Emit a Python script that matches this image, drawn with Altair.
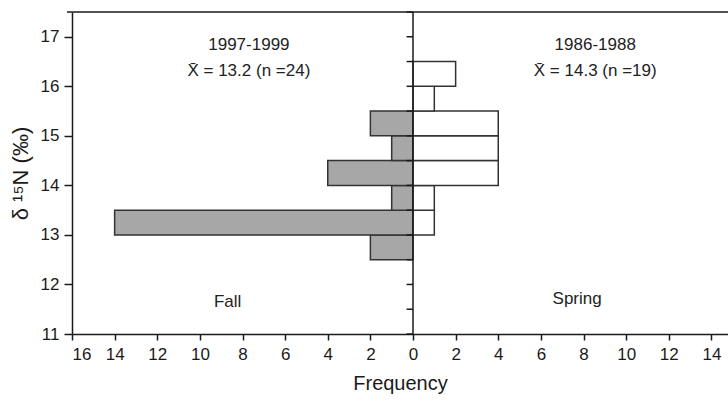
import altair as alt
import pandas as pd

# Fall 1997-1999 (left, gray)
fall_bin_start = [12.5, 13.0, 13.5, 14.0, 14.5, 15.0]
fall_counts = [2, 14, 1, 4, 1, 2]
# Spring 1986-1988 (right, white)
spring_bin_start = [13.0, 13.5, 14.0, 14.5, 15.0, 15.5, 16.0]
spring_counts = [1, 1, 4, 4, 4, 1, 2]
bin_width = 0.5

y_ticks = [11, 11.5, 12, 12.5, 13, 13.5, 14, 14.5, 15, 15.5, 16, 16.5, 17, 17.5]
x_ticks = [-16, -14, -12, -10, -8, -6, -4, -2, 0, 2, 4, 6, 8, 10, 12, 14]

FONT = "Liberation Sans"
INK = "#1a1a1a"

fall = pd.DataFrame({
    "y0": fall_bin_start,
    "y1": [b + bin_width for b in fall_bin_start],
    "x0": [-c for c in fall_counts],
    "x1": [0] * len(fall_counts),
})
spring = pd.DataFrame({
    "y0": spring_bin_start,
    "y1": [b + bin_width for b in spring_bin_start],
    "x0": [0] * len(spring_counts),
    "x1": spring_counts,
})

xs = alt.Scale(domain=[-16, 14.78], nice=False, zero=False)
ys = alt.Scale(domain=[11, 17.5], nice=False, zero=False)

x_axis = alt.Axis(values=x_ticks, labelExpr="abs(datum.value)", title="Frequency",
                  grid=False, tickSize=6, labelPadding=6, titlePadding=11,
                  labelFontSize=17, titleFontSize=20, labelFont=FONT, titleFont=FONT,
                  titleFontWeight="normal", domainColor=INK, tickColor=INK,
                  labelColor=INK, titleColor=INK, domainWidth=1.5, tickWidth=1.5)
y_axis = alt.Axis(values=y_ticks, labelExpr="datum.value % 1 == 0 ? datum.value : ''",
                  title="δ ¹⁵N (‰)", grid=False, tickSize=8, labelPadding=5, titlePadding=8,
                  labelFontSize=17, titleFontSize=22, labelFont=FONT, titleFont=FONT,
                  titleFontWeight="normal", domainColor=INK, tickColor=INK,
                  labelColor=INK, titleColor=INK, domainWidth=1.5, tickWidth=1.5)

fall_bars = alt.Chart(fall).mark_rect(fill="#a7a7a7", stroke="#333333", strokeWidth=1.5).encode(
    x=alt.X("x0:Q", scale=xs, axis=x_axis),
    x2="x1:Q",
    y=alt.Y("y0:Q", scale=ys, axis=y_axis),
    y2="y1:Q",
)
spring_bars = alt.Chart(spring).mark_rect(fill="white", stroke="#333333", strokeWidth=1.5).encode(
    x=alt.X("x0:Q", scale=xs),
    x2="x1:Q",
    y=alt.Y("y0:Q", scale=ys),
    y2="y1:Q",
)

ticks_df = pd.DataFrame({"y": y_ticks})
center_line = alt.Chart(pd.DataFrame({"y0": [11], "y1": [17.5]})).mark_rule(
    color=INK, strokeWidth=1.5).encode(x=alt.datum(0, scale=xs), y=alt.Y("y0:Q", scale=ys), y2="y1:Q")
center_ticks = alt.Chart(ticks_df).mark_rule(color=INK, strokeWidth=1.5).encode(
    x=alt.datum(-0.3, scale=xs), x2=alt.datum(0), y=alt.Y("y:Q", scale=ys))
top_border = alt.Chart(pd.DataFrame({"y": [17.5]})).mark_rule(color=INK, strokeWidth=1.5).encode(
    x=alt.value(-5), x2=alt.value(656), y=alt.Y("y:Q", scale=ys))

ann_x = [-7.7, -7.7, 8.55, 8.55, -8.7, 7.7]
ann_y = [16.83, 16.3, 16.83, 16.3, 11.65, 11.7]
ann_text = ["1997-1999", "X\u0304 = 13.2 (n =24)", "1986-1988", "X\u0304 = 14.3 (n =19)", "Fall", "Spring"]
ann = pd.DataFrame({"x": ann_x, "y": ann_y, "t": ann_text})
labels = alt.Chart(ann).mark_text(font=FONT, fontSize=17, color="#222222", align="center",
                                  baseline="middle").encode(
    x=alt.X("x:Q", scale=xs), y=alt.Y("y:Q", scale=ys), text="t:N")

chart = alt.layer(fall_bars, spring_bars, center_line, center_ticks, top_border, labels).properties(
    width=656, height=322,
    padding={"left": 72, "top": 12, "right": 0, "bottom": 75},
    autosize=alt.AutoSizeParams(type="none"),
    background="white",
).configure_view(stroke=None)

chart.save("out.html", embed_options={"renderer": "svg", "actions": False})
